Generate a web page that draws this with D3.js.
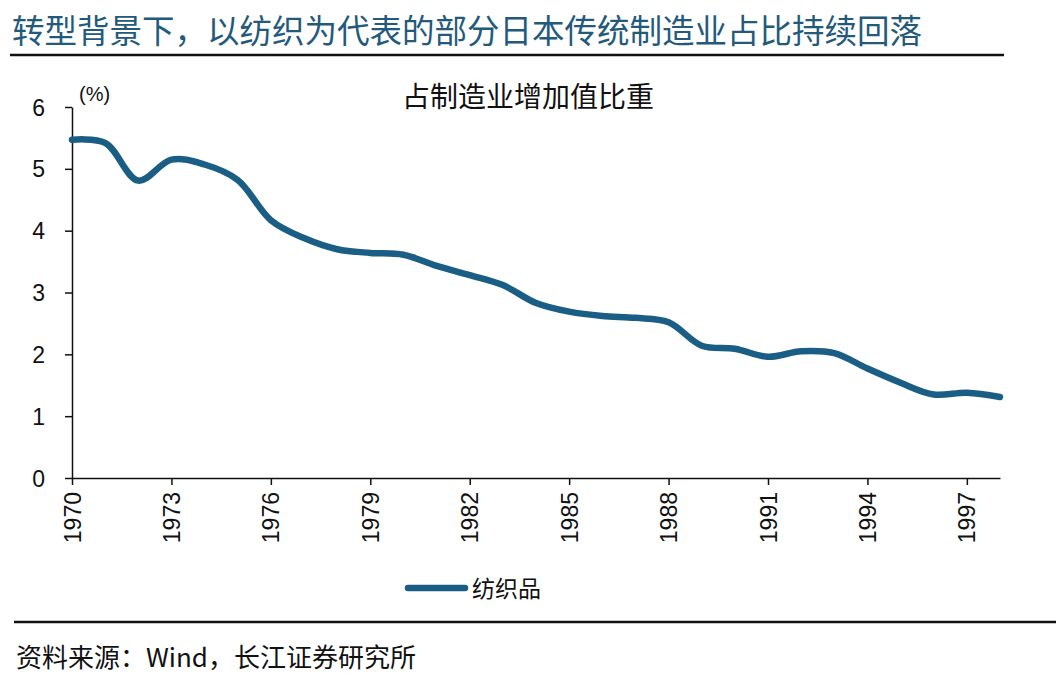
<!DOCTYPE html>
<html lang="zh">
<head>
    <meta charset="UTF-8">
    <script src="https://d3js.org/d3.v7.min.js"></script>
    <title>纺织品占制造业增加值比重</title>
    <style>
        body {
            margin: 0;
            background: #fff;
            overflow: hidden;
        }
        text {
            font-family: "Liberation Sans", "Noto Sans CJK SC", sans-serif;
            fill: #111;
        }
        .cjk {
            font-family: "Noto Sans CJK SC", "Liberation Sans", sans-serif;
        }
        .axis path, .axis line {
            stroke: #111;
            stroke-width: 1.5;
        }
        .axis text {
            font-family: "Liberation Sans", sans-serif;
            font-size: 23px;
        }
    </style>
</head>
<body>
<script>
    // data
    const years = [1970, 1971, 1972, 1973, 1974, 1975, 1976, 1977, 1978, 1979,
                   1980, 1981, 1982, 1983, 1984, 1985, 1986, 1987, 1988, 1989,
                   1990, 1991, 1992, 1993, 1994, 1995, 1996, 1997, 1998];
    const textileShare = [5.47, 5.42, 4.81, 5.15, 5.07, 4.82, 4.17, 3.88, 3.70, 3.64,
                          3.61, 3.43, 3.28, 3.12, 2.83, 2.69, 2.62, 2.59, 2.52, 2.14,
                          2.09, 1.96, 2.05, 2.02, 1.77, 1.54, 1.35, 1.38, 1.31];
    const xTicks = [1970, 1973, 1976, 1979, 1982, 1985, 1988, 1991, 1994, 1997];
    const yTicks = [0, 1, 2, 3, 4, 5, 6];
    const seriesName = "纺织品";

    const width = 1056;
    const height = 685;
    const blue = "#1a5d85";

    const svg = d3.select("body")
        .append("svg")
        .attr("width", width)
        .attr("height", height);

    // page title + rules
    svg.append("text")
        .attr("class", "cjk")
        .attr("x", 12)
        .attr("y", 43)
        .style("font-size", "32.5px")
        .style("fill", "#235a7c")
        .text("转型背景下，以纺织为代表的部分日本传统制造业占比持续回落");

    svg.append("line")
        .attr("x1", 10).attr("x2", 1004)
        .attr("y1", 55).attr("y2", 55)
        .attr("stroke", "#111").attr("stroke-width", 2.5);

    svg.append("line")
        .attr("x1", 14).attr("x2", width)
        .attr("y1", 622).attr("y2", 622)
        .attr("stroke", "#111").attr("stroke-width", 2.5);

    svg.append("text")
        .attr("class", "cjk")
        .attr("x", 16)
        .attr("y", 667)
        .style("font-size", "26px")
        .text("资料来源：Wind，长江证券研究所");

    // chart
    const margin = { top: 107, right: 56, bottom: 207, left: 72 };

    const x = d3.scaleLinear()
        .domain([1970, 1998])
        .range([margin.left, width - margin.right]);

    const y = d3.scaleLinear()
        .domain([0, 6])
        .range([height - margin.bottom, margin.top]);

    svg.append("text")
        .attr("class", "cjk")
        .attr("x", 528)
        .attr("y", 107)
        .attr("text-anchor", "middle")
        .style("font-size", "28px")
        .text("占制造业增加值比重");

    svg.append("text")
        .attr("x", 79)
        .attr("y", 101)
        .style("font-size", "20px")
        .text("(%)");

    const yAxis = svg.append("g")
        .attr("class", "axis")
        .attr("transform", `translate(${margin.left},0)`)
        .call(d3.axisLeft(y).tickValues(yTicks).tickFormat(d3.format("d"))
            .tickSize(7).tickPadding(20).tickSizeOuter(0));
    yAxis.selectAll("text").attr("dy", "0.35em");

    const xAxis = svg.append("g")
        .attr("class", "axis")
        .attr("transform", `translate(0,${y(0)})`)
        .call(d3.axisBottom(x).tickValues(xTicks).tickFormat(d3.format("d"))
            .tickSize(7).tickSizeOuter(0));

    xAxis.selectAll("text")
        .attr("transform", "rotate(-90)")
        .attr("x", -14)
        .attr("y", 0)
        .attr("dy", "0.35em")
        .attr("text-anchor", "end");

    const line = d3.line()
        .x((d, i) => x(years[i]))
        .y(d => y(d))
        .curve(d3.curveCatmullRom.alpha(0.5));

    svg.append("path")
        .datum(textileShare)
        .attr("fill", "none")
        .attr("stroke", blue)
        .attr("stroke-width", 6.5)
        .attr("stroke-linecap", "round")
        .attr("d", line);

    // legend
    const legend = svg.append("g").attr("transform", "translate(408,588)");
    legend.append("line")
        .attr("x1", 0).attr("x2", 57)
        .attr("y1", 0).attr("y2", 0)
        .attr("stroke", blue)
        .attr("stroke-width", 6.5)
        .attr("stroke-linecap", "round");
    legend.append("text")
        .attr("class", "cjk")
        .attr("x", 64)
        .attr("y", 9)
        .style("font-size", "23px")
        .text(seriesName);
</script>
</body>
</html>
